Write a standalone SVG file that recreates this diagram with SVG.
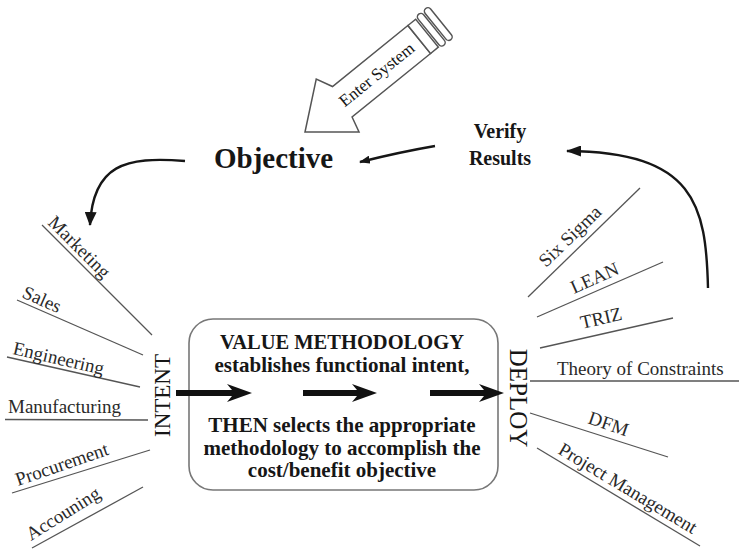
<svg xmlns="http://www.w3.org/2000/svg" width="739" height="550" viewBox="0 0 739 550">
<style>
.lbl{font-family:"Liberation Serif","Times New Roman",serif;font-size:19px;fill:#2a2a2a}
.spoke{stroke:#555;stroke-width:1.3;fill:none}
.bold{font-family:"Liberation Serif","Times New Roman",serif;font-weight:bold;fill:#161616}
.big{font-family:"Liberation Serif","Times New Roman",serif;fill:#161616}
.curve{stroke:#161616;stroke-width:2.4;fill:none}
.thick{fill:#111}
.outline{fill:#fff;stroke:#555;stroke-width:1.5}
</style>
<defs>
<marker id="ah" viewBox="0 0 14 12" refX="13" refY="6" markerWidth="14" markerHeight="12" markerUnits="userSpaceOnUse" orient="auto"><path d="M0,0 L14,6 L0,12 Z" fill="#161616"/></marker>
<marker id="ah2" viewBox="0 0 11 8" refX="10" refY="4" markerWidth="11" markerHeight="8" markerUnits="userSpaceOnUse" orient="auto"><path d="M0,0 L11,4 L0,8 Z" fill="#161616"/></marker>
<marker id="ah3" viewBox="0 0 15 11" refX="14" refY="5.5" markerWidth="15" markerHeight="11" markerUnits="userSpaceOnUse" orient="auto"><path d="M0,0 L15,5.5 L0,11 Z" fill="#161616"/></marker>
</defs>
<rect width="739" height="550" fill="#fff"/>

<g id="enter-system" transform="translate(305,132) rotate(-39)">
<path class="outline" d="M0,0 L42,-34 L50,-18 L147,-18 L147,18 L46,18 L42,34 Z"/>
<rect class="outline" x="147" y="-18" width="10" height="36"/>
<rect class="outline" x="159" y="-20" width="7" height="40" rx="3.5"/>
<rect class="outline" x="168" y="-20" width="7" height="40" rx="3.5"/>
<text class="big" x="92" y="6" font-size="17" text-anchor="middle">Enter System</text>
</g>

<g id="objective"><text class="bold" x="214" y="168" font-size="29">Objective</text></g>
<g id="verify-results">
<text class="bold" x="500" y="138" font-size="20" text-anchor="middle">Verify</text>
<text class="bold" x="500" y="165" font-size="20" text-anchor="middle">Results</text>
</g>

<g id="value-methodology">
<rect x="189" y="319" width="309" height="171" rx="24" fill="none" stroke="#777" stroke-width="1.6"/>
<text class="bold" x="342" y="349" font-size="20.5" text-anchor="middle">VALUE METHODOLOGY</text>
<text class="bold" x="342" y="372" font-size="21" text-anchor="middle">establishes functional intent,</text>
<text class="bold" x="342" y="432" font-size="21" text-anchor="middle">THEN selects the appropriate</text>
<text class="bold" x="342" y="455" font-size="21" text-anchor="middle">methodology to accomplish the</text>
<text class="bold" x="342" y="477" font-size="21" text-anchor="middle">cost/benefit objective</text>
</g>

<g id="intent"><text class="big" transform="translate(170,395.5) rotate(-90)" font-size="23" text-anchor="middle">INTENT</text></g>
<g id="deploy"><text class="big" transform="translate(510,398) rotate(90)" font-size="25" text-anchor="middle">DEPLOY</text></g>

<g id="marketing"><line class="spoke" x1="42" y1="225" x2="152" y2="335"/><text class="lbl" transform="translate(47,223.5) rotate(45)">Marketing</text></g>
<g id="sales"><line class="spoke" x1="17" y1="300" x2="143" y2="355"/><text class="lbl" transform="translate(21,297) rotate(24)">Sales</text></g>
<g id="engineering"><line class="spoke" x1="7" y1="357" x2="140" y2="387"/><text class="lbl" transform="translate(12,354) rotate(13)">Engineering</text></g>
<g id="manufacturing"><line class="spoke" x1="5" y1="419.5" x2="148" y2="420"/><text class="lbl" x="8" y="413">Manufacturing</text></g>
<g id="procurement"><line class="spoke" x1="12" y1="493" x2="150" y2="450"/><text class="lbl" transform="translate(18,486) rotate(-19)">Procurement</text></g>
<g id="accounting"><line class="spoke" x1="32" y1="548" x2="143" y2="487"/><text class="lbl" transform="translate(31,541) rotate(-32)">Accouning</text></g>

<g id="six-sigma"><line class="spoke" x1="528" y1="297" x2="640" y2="188"/><text class="lbl" transform="translate(546,268) rotate(-44)">Six Sigma</text></g>
<g id="lean"><line class="spoke" x1="537" y1="317" x2="663" y2="262"/><text class="lbl" transform="translate(574,294) rotate(-24)">LEAN</text></g>
<g id="triz"><line class="spoke" x1="540" y1="348" x2="673" y2="318"/><text class="lbl" transform="translate(582,329) rotate(-13)">TRIZ</text></g>
<g id="theory-of-constraints"><line class="spoke" x1="530" y1="381" x2="739" y2="381"/><text class="lbl" x="557" y="375">Theory of Constraints</text></g>
<g id="dfm"><line class="spoke" x1="530" y1="413" x2="668" y2="457"/><text class="lbl" transform="translate(587,423) rotate(19)">DFM</text></g>
<g id="project-management"><line class="spoke" x1="537" y1="448" x2="700" y2="546"/><text class="lbl" transform="translate(557,453) rotate(31)">Project Management</text></g>

<g id="connectors">
<path class="curve" d="M185,161 C125,156 93,165 90,225" marker-end="url(#ah)"/>
<path class="curve" d="M435,146 Q400,152 360,162" marker-end="url(#ah2)"/>
<path class="curve" d="M708,288 C706,205 695,152 567,151" marker-end="url(#ah3)"/>
<path class="thick" d="M176,390 L232,390 L227,384 L252,393 L227,402 L232,396 L176,396 Z"/>
<path class="thick" d="M303,390 L357,390 L352,384 L377,393 L352,402 L357,396 L303,396 Z"/>
<path class="thick" d="M430,390 L484,390 L479,384 L504,393 L479,402 L484,396 L430,396 Z"/>
</g>
</svg>
